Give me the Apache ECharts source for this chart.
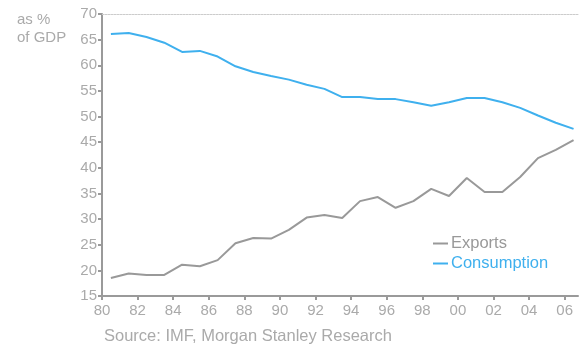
<!DOCTYPE html>
<html><head><meta charset="utf-8">
<script src="https://cdn.jsdelivr.net/npm/echarts@6/dist/echarts.min.js"></script>
<style>html,body{margin:0;padding:0;background:#fff}#c{width:582px;height:346px}</style>
</head><body><div id="c"></div>
<script>
const years = [1980,1981,1982,1983,1984,1985,1986,1987,1988,1989,1990,1991,1992,1993,1994,1995,1996,1997,1998,1999,2000,2001,2002,2003,2004,2005,2006];
const exportsVals = [18.5,19.4,19.1,19.1,21.1,20.8,22.0,25.3,26.3,26.2,27.9,30.3,30.8,30.2,33.5,34.3,32.2,33.5,35.9,34.5,38.0,35.3,35.3,38.2,41.9,43.5,45.4];
const consumptionVals = [66.1,66.3,65.5,64.4,62.6,62.8,61.7,59.8,58.7,57.9,57.2,56.2,55.4,53.8,53.8,53.4,53.4,52.8,52.1,52.8,53.6,53.6,52.8,51.7,50.2,48.8,47.6];
const xTicks = [1980,1982,1984,1986,1988,1990,1992,1994,1996,1998,2000,2002,2004,2006];
const seriesNames = ['Exports','Consumption'];
const unitLabel = 'as %\nof GDP';
const sourceText = 'Source: IMF, Morgan Stanley Research';

const font = 'Liberation Sans';
const pts = (vals) => years.map((y,i)=>[y+0.5, vals[i]]);
const chart = echarts.init(document.getElementById('c'), null, {renderer:'canvas'});
chart.setOption({
  animation:false,
  backgroundColor:'#fff',
  textStyle:{fontFamily:font},
  title:[
    {text:unitLabel, left:12, top:6, textStyle:{fontSize:15, fontWeight:'normal', color:'#aaaaaa', lineHeight:18, fontFamily:font}},
    {text:sourceText, left:99, top:323, textStyle:{fontSize:16.5, fontWeight:'normal', color:'#aaaaaa', fontFamily:font}}
  ],
  legend:{
    orient:'vertical', left:428, top:230, itemWidth:15, itemHeight:2, itemGap:3, icon:'rect',
    data:[{name:seriesNames[0], textStyle:{color:'#999999'}},{name:seriesNames[1], textStyle:{color:'#3fb0ee'}}],
    textStyle:{fontSize:16.5, fontFamily:font, padding:[0,0,0,-2]}
  },
  grid:{left:102, right:4, top:14, bottom:50, containLabel:false},
  xAxis:[{
    type:'value', min:1980, max:2006.75, interval:2,
    axisLine:{lineStyle:{color:'#9a9a9a', width:2}},
    axisTick:{show:true, length:4, customValues:xTicks, lineStyle:{color:'#9a9a9a', width:2}},
    axisLabel:{customValues:xTicks, formatter:v=>String(v).slice(2), color:'#aaaaaa', fontSize:15, margin:7, fontFamily:font},
    splitLine:{show:false}
  },{
    type:'value', position:'top', min:1980, max:2006.75,
    axisLine:{show:true, lineStyle:{color:'#cccccc', width:1, type:[2,1]}},
    axisTick:{show:false}, axisLabel:{show:false}, splitLine:{show:false}
  }],
  yAxis:{
    type:'value', min:15, max:70, interval:5,
    axisLine:{show:true, lineStyle:{color:'#9a9a9a', width:2}},
    axisTick:{show:true, length:4, lineStyle:{color:'#9a9a9a', width:2}},
    axisLabel:{color:'#aaaaaa', fontSize:15, margin:5, fontFamily:font},
    splitLine:{show:false}
  },
  series:[
    {name:seriesNames[0], type:'line', data:pts(exportsVals), showSymbol:false, symbol:'none', lineStyle:{color:'#999999', width:2}, itemStyle:{color:'#999999'}},
    {name:seriesNames[1], type:'line', data:pts(consumptionVals), showSymbol:false, symbol:'none', lineStyle:{color:'#3fb0ee', width:2}, itemStyle:{color:'#3fb0ee'}}
  ]
});
</script></body></html>
